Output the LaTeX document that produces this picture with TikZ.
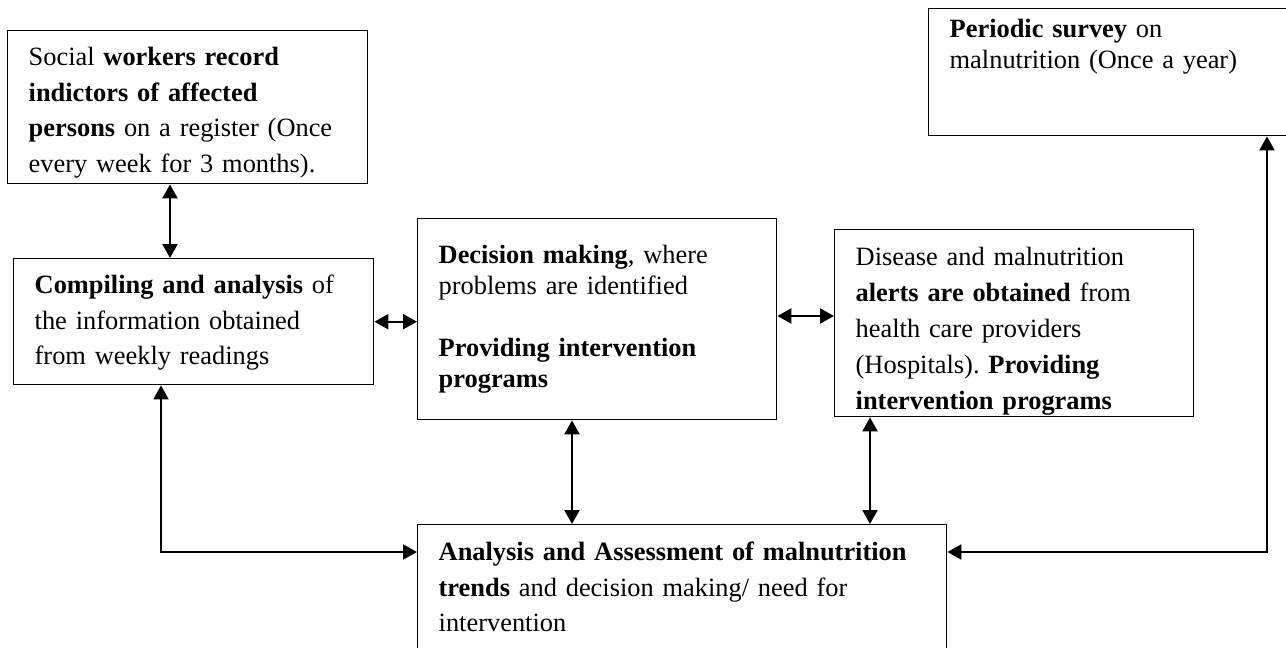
\documentclass[tikz,border=0pt]{standalone}
\usepackage{fontspec}
\setmainfont{Liberation Serif}
\usetikzlibrary{arrows.meta}
\frenchspacing

\begin{document}
\begin{tikzpicture}[x=0.5pt,y=-0.5pt]
\tikzstyle{blk}=[draw, line width=0.7pt, anchor=north west, align=left, inner ysep=0pt, inner xsep=10.5pt, font=\fontsize{13.2pt}{17.75pt}\selectfont];
\tikzstyle{link}=[line width=1.1pt, {Triangle[length=7pt,width=7.5pt]}-{Triangle[length=7pt,width=7.5pt]}];

\useasboundingbox (0,0) rectangle (1286,648);
\clip (0,0) rectangle (1286,648);

% boxes
\node[blk, text width=159pt, text height=17.5pt, text depth=59pt] (social) at (7,30)
  {Social \textbf{workers record}\\ \textbf{indictors of affected}\\ \textbf{persons} on a register (Once\\ every week for 3 months).};
\node[blk, text width=159pt, text height=17.5pt, text depth=45.5pt] (compile) at (13,258)
  {\textbf{Compiling and analysis} of\\ the information obtained\\ from weekly readings};
\node[blk, text width=158.5pt, text height=22.5pt, text depth=78pt, font=\fontsize{13.2pt}{15.5pt}\selectfont] (decision) at (417,218)
  {\textbf{Decision making}, where\\ problems are identified\\[15.5pt] \textbf{Providing intervention}\\ \textbf{programs}};
% the last line runs past the bottom edge and is cut there
\begin{scope}
  \clip (830,225) rectangle (1197,416.7);
  \node[blk, text width=158.5pt, text height=18pt, text depth=75.5pt, font=\fontsize{13.2pt}{18pt}\selectfont] (disease) at (834,229)
    {Disease and malnutrition\\ \textbf{alerts are obtained} from\\ health care providers\\ (Hospitals). \textbf{Providing}\\ \textbf{intervention programs}};
\end{scope}
\node[blk, text width=165pt, text height=14.5pt, text depth=49pt, font=\fontsize{13.2pt}{15.5pt}\selectfont] (periodic) at (928,8)
  {\textbf{Periodic survey} on\\ malnutrition (Once a year)};
\node[blk, text width=243.5pt, text height=18pt, text depth=50pt] (analysis) at (417,524)
  {\textbf{Analysis and Assessment of malnutrition}\\ \textbf{trends} and decision making/ need for\\ intervention};

% where the connectors run
\coordinate (xa) at (170,0);
\coordinate (xb) at (572,0);
\coordinate (xc) at (870,0);
\coordinate (xd) at (161,0);
\coordinate (xe) at (1267,0);
\coordinate (ya) at (0,316);
\coordinate (yb) at (0,552);

% connectors
\draw[link] (social.south -| xa) -- (compile.north -| xa);
\draw[link] (compile.east) -- (compile.east -| decision.west);
\draw[link] (decision.east |- ya) -- (disease.west |- ya);
\draw[link] (decision.south -| xb) -- (analysis.north -| xb);
\draw[link] (disease.south -| xc) -- (analysis.north -| xc);
\draw[link] (compile.south -| xd) |- (analysis.west |- yb);
\draw[link] (analysis.east |- yb) -| (periodic.south -| xe);

\end{tikzpicture}
\end{document}
